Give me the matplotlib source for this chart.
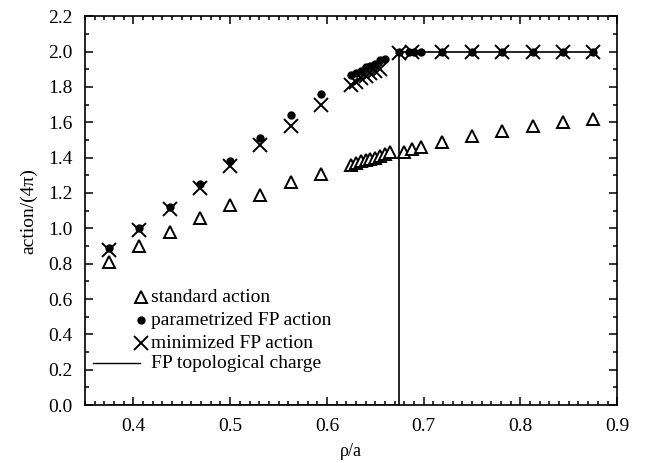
import numpy as np
import matplotlib
matplotlib.use("Agg")
import matplotlib.pyplot as plt
from matplotlib.ticker import MultipleLocator

plt.rcParams['font.family'] = ['Liberation Serif', 'DejaVu Serif']

# standard action (triangles)
std_x = [0.375, 0.40625, 0.4375, 0.46875, 0.5, 0.53125, 0.5625, 0.59375,
         0.625, 0.63, 0.635, 0.64, 0.645, 0.65, 0.655, 0.66, 0.665,
         0.68, 0.6875, 0.6975, 0.71875, 0.75, 0.78125, 0.8125, 0.84375, 0.875]
std_y = [0.81, 0.90, 0.98, 1.06, 1.13, 1.19, 1.26, 1.31,
         1.36, 1.37, 1.38, 1.385, 1.39, 1.40, 1.41, 1.42, 1.43,
         1.43, 1.45, 1.46, 1.49, 1.52, 1.55, 1.58, 1.60, 1.62]

# parametrized FP action (dots)
par_x = [0.375, 0.40625, 0.4375, 0.46875, 0.5, 0.53125, 0.5625, 0.59375,
         0.625, 0.63, 0.635, 0.64, 0.645, 0.65, 0.655, 0.66,
         0.675, 0.685, 0.69, 0.6975, 0.71875, 0.75, 0.78125, 0.8125, 0.84375, 0.875]
par_y = [0.89, 1.00, 1.12, 1.25, 1.38, 1.51, 1.64, 1.76,
         1.87, 1.88, 1.89, 1.91, 1.92, 1.93, 1.95, 1.96,
         2.0, 2.0, 2.0, 2.0, 2.0, 2.0, 2.0, 2.0, 2.0, 2.0]

# minimized FP action (crosses)
min_x = [0.375, 0.40625, 0.4375, 0.46875, 0.5, 0.53125, 0.5625, 0.59375,
         0.625, 0.63, 0.635, 0.64, 0.645, 0.65, 0.655,
         0.675, 0.6875, 0.71875, 0.75, 0.78125, 0.8125, 0.84375, 0.875]
min_y = [0.88, 0.99, 1.11, 1.23, 1.35, 1.47, 1.58, 1.70,
         1.81, 1.83, 1.85, 1.86, 1.88, 1.89, 1.90,
         1.99, 2.0, 2.0, 2.0, 2.0, 2.0, 2.0, 2.0]

# FP topological charge (step)
top_x = [0.375, 0.674, 0.674, 0.875]
top_y = [0.0, 0.0, 2.0, 2.0]

labels = ["standard action", "parametrized FP action",
          "minimized FP action", "FP topological charge"]

fig = plt.figure(figsize=(6.49, 4.63), dpi=100)
ax = fig.add_axes([0.131, 0.125, 0.82, 0.84])

ax.plot(top_x, top_y, color="black", lw=1.2)
ax.plot(std_x, std_y, ls="none", marker="^", ms=8, mfc="white", mec="black", mew=1.4)
ax.plot(min_x, min_y, ls="none", marker="x", ms=10, color="black", mew=1.4)
ax.plot(par_x, par_y, ls="none", marker="o", ms=5, color="black")

ax.set_xlim(0.35, 0.9)
ax.set_ylim(0.0, 2.2)
ax.xaxis.set_major_locator(MultipleLocator(0.1))
ax.xaxis.set_minor_locator(MultipleLocator(0.01))
ax.yaxis.set_major_locator(MultipleLocator(0.2))
ax.yaxis.set_minor_locator(MultipleLocator(0.1))
ax.tick_params(which="both", direction="in", top=True, right=True, labelsize=14, width=1.1)
ax.tick_params(which="major", length=6, pad=9)
ax.tick_params(which="minor", length=3)
for s in ax.spines.values():
    s.set_linewidth(1.2)

ax.set_xlabel("ρ/a", fontsize=13, labelpad=6)
ax.set_ylabel("action/(4π)", fontsize=14, labelpad=8)

# legend drawn gnuplot style: sample on the left, text to the right
rows = [0.278, 0.2185, 0.159, 0.108]
tr = ax.transAxes
ax.plot([0.105], [rows[0]], transform=tr, ls="none", marker="^", ms=8, mfc="white", mec="black", mew=1.4)
ax.plot([0.105], [rows[1]], transform=tr, ls="none", marker="o", ms=5, color="black")
ax.plot([0.105], [rows[2]], transform=tr, ls="none", marker="x", ms=10, color="black", mew=1.4)
ax.plot([0.015, 0.103], [rows[3], rows[3]], transform=tr, color="black", lw=1.0)
for r, lab in zip(rows, labels):
    ax.text(0.124, r, lab, transform=tr, fontsize=14, va="center", ha="left")

fig.savefig("out.png", dpi=100)
